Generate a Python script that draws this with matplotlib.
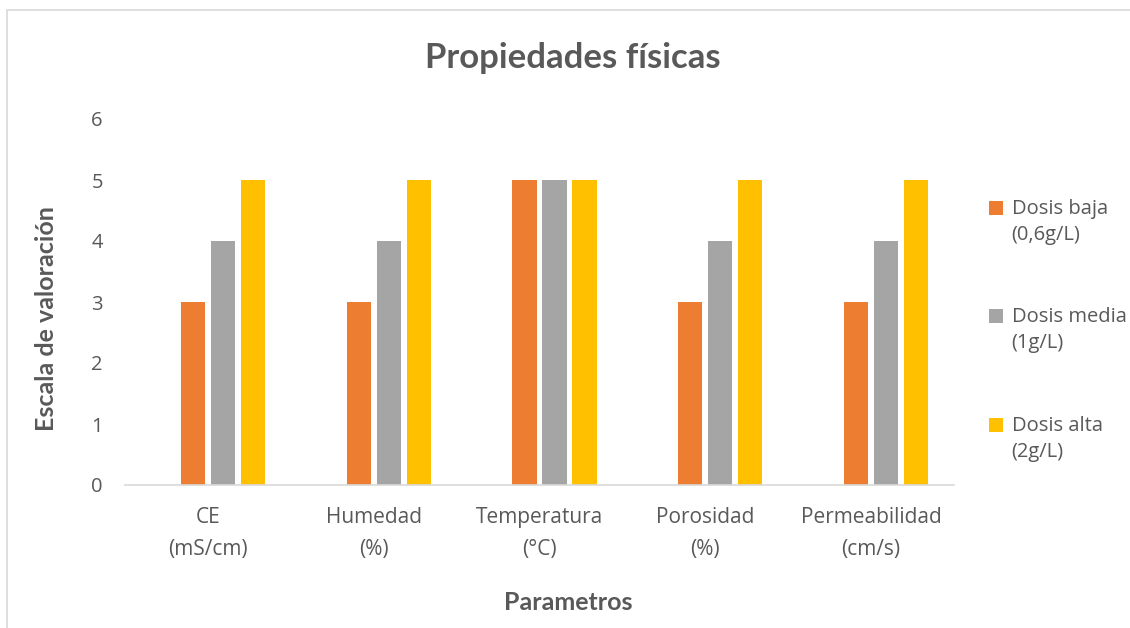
import numpy as np
import matplotlib
matplotlib.use("Agg")
import matplotlib.pyplot as plt
from matplotlib.patches import Rectangle

categories = ["CE\n(mS/cm)", "Humedad\n(%)", "Temperatura\n(°C)", "Porosidad\n(%)", "Permeabilidad\n(cm/s)"]
series_names = ["Dosis baja\n(0,6g/L)", "Dosis media\n(1g/L)", "Dosis alta\n(2g/L)"]
dosis_baja = [3, 3, 5, 3, 3]
dosis_media = [4, 4, 5, 4, 4]
dosis_alta = [5, 5, 5, 5, 5]
colors = ["#ED7D31", "#A5A5A5", "#FFC000"]

text_color = "#595959"
plt.rcParams["font.family"] = ["Open Sans", "DejaVu Sans"]

fig = plt.figure(figsize=(11.3, 6.28), dpi=100)
ax = fig.add_axes([125 / 1130, 1 - 485 / 628, (954 - 125) / 1130, (485 - 119) / 628])

# chart border
fig.patches.append(Rectangle((7 / 1130, -0.05), 1.1, 1.05 - 10 / 628, transform=fig.transFigure,
                             fill=False, edgecolor="#D9D9D9", linewidth=1.2))

x = np.arange(len(categories))
pitch = 0.181
width = 0.145
# Excel group has an empty first slot, so bars sit right of center
offsets = [-0.5 * pitch, 0.5 * pitch, 1.5 * pitch]
for vals, off, col, name in zip([dosis_baja, dosis_media, dosis_alta], offsets, colors, series_names):
    ax.bar(x + off, vals, width=width, color=col, label=name, zorder=2)

ax.set_xlim(-0.5, len(categories) - 0.5)
ax.set_ylim(0, 6)
ax.set_yticks(range(0, 7))
ax.set_xticks(x)
ax.set_xticklabels(categories, fontsize=15, color=text_color, linespacing=1.7)
ax.tick_params(axis="y", labelsize=14.5, labelcolor=text_color, length=0, pad=16)
ax.tick_params(axis="x", length=0, pad=16)
for s in ["top", "right", "left"]:
    ax.spines[s].set_visible(False)
ax.spines["bottom"].set_color("#D9D9D9")
ax.spines["bottom"].set_linewidth(1.2)

fig.text(573 / 1130, 1 - 58 / 628, "Propiedades físicas", ha="center", va="center",
         fontsize=25, fontweight="bold", color=text_color, family=["Lato", "DejaVu Sans"])
fig.text(568 / 1130, 1 - 602 / 628, "Parametros", ha="center", va="center",
         fontsize=18, fontweight="bold", color=text_color, family=["Lato", "DejaVu Sans"])
fig.text(47 / 1130, 1 - 319 / 628, "Escala de valoración", ha="center", va="center", rotation=90,
         fontsize=18, fontweight="bold", color=text_color, family=["Lato", "DejaVu Sans"])

leg = fig.legend(loc="upper left", bbox_to_anchor=(981 / 1130, 1 - 191 / 628), frameon=False,
                 fontsize=14.5, labelcolor=text_color, handlelength=0.67, handleheight=0.67,
                 handletextpad=0.45, labelspacing=3.1, borderaxespad=0)
for t in leg.get_texts():
    t.set_linespacing(1.4)
# line the squares up with the first text line, like Excel does
for p in leg.get_patches():
    p.set_y(p.get_y() + 10.5)

fig.savefig("out.png", dpi=100)
